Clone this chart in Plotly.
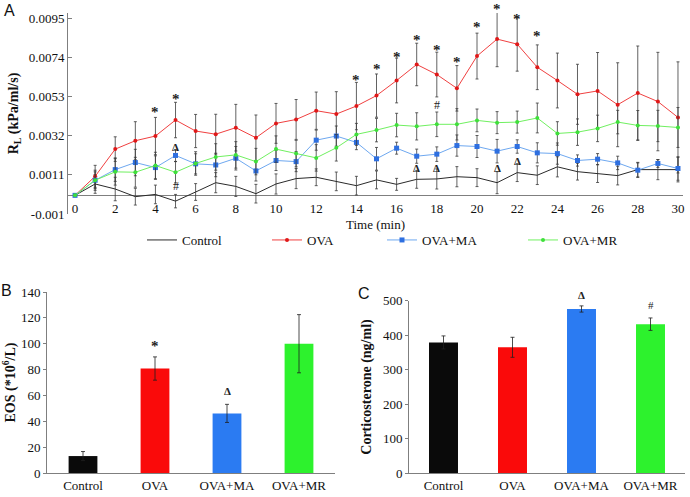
import plotly.graph_objects as go

# ---------------- Panel A data ----------------
time_min = list(range(31))
x_ticks = list(range(0, 31, 2))
y_ticks_a = [-0.001, 0.0011, 0.0032, 0.0053, 0.0074, 0.0095]

control = [0, 0.00061, 0.00034, -0.00007, 0.00005, -0.00031, 0.00018, 0.00068, 0.00048, 0.00009,
           0.00061, 0.0009, 0.00097, 0.00075, 0.00052, 0.00083, 0.00059, 0.00086, 0.00088, 0.001,
           0.00095, 0.00068, 0.00122, 0.00108, 0.00153, 0.00127, 0.00117, 0.00106, 0.00138, 0.00138, 0.00138]
control_err = [0, 0.0005, 0.00063, 0.00045, 0.0005, 0.00036, 0.00045, 0.00054, 0.00054, 0.0005,
               0.00054, 0.00054, 0.00045, 0.0005, 0.0005, 0.00048, 0.00032, 0.00048, 0.00054, 0.00054,
               0.00048, 0.00059, 0.00048, 0.0005, 0.00054, 0.00045, 0.00048, 0.0005, 0.00039, 0.00054, 0.00066]

ova = [0, 0.00102, 0.00248, 0.00293, 0.00318, 0.00404, 0.00345, 0.00328, 0.00363, 0.00309,
       0.00386, 0.00407, 0.00454, 0.00436, 0.00479, 0.00535, 0.00616, 0.00702, 0.00648, 0.00574,
       0.00747, 0.00838, 0.00811, 0.00687, 0.00616, 0.00542, 0.0056, 0.00486, 0.00549, 0.00503, 0.00418]
ova_err = [0, 0.00059, 0.00066, 0.00102, 0.001, 0.00095, 0.00089, 0.00107, 0.00125, 0.00122,
           0.00107, 0.00107, 0.001, 0.0012, 0.00127, 0.00116, 0.0012, 0.00114, 0.0012, 0.00122,
           0.00123, 0.00148, 0.00145, 0.0012, 0.00147, 0.00161, 0.00206, 0.00225, 0.00252, 0.00264, 0.00298]

ova_ma = [0, 0.00081, 0.00138, 0.00176, 0.00149, 0.00214, 0.00169, 0.00163, 0.00199, 0.00131,
          0.00187, 0.00181, 0.00296, 0.00318, 0.00284, 0.00196, 0.00253, 0.0021, 0.00221, 0.00267,
          0.00262, 0.00237, 0.00262, 0.00228, 0.00224, 0.00187, 0.00194, 0.00174, 0.00135, 0.00171, 0.00144]
ova_ma_err = [0, 0.00045, 0.00063, 0.00071, 0.00063, 0.00032, 0.00054, 0.00063, 0.00063, 0.00054,
              0.00054, 0.00054, 0.00054, 0.00054, 0.00039, 0.00061, 0.00032, 0.00038, 0.00039, 0.00057,
              0.00059, 0.00063, 0.00036, 0.00054, 0.00057, 0.0003, 0.0003, 0.00036, 0.00039, 0.00021, 0.00063]

ova_mr = [0, 0.00081, 0.00126, 0.00124, 0.0016, 0.00124, 0.00171, 0.00206, 0.00217, 0.00181,
          0.00248, 0.00224, 0.00201, 0.00255, 0.00327, 0.0035, 0.00377, 0.0037, 0.00381, 0.00381,
          0.00402, 0.0039, 0.00393, 0.00415, 0.00332, 0.00339, 0.00359, 0.00393, 0.00375, 0.00372, 0.00364]
ova_mr_err = [0, 0.00054, 0.00071, 0.0008, 0.00071, 0.00057, 0.00063, 0.00071, 0.00071, 0.00071,
              0.00071, 0.00071, 0.00071, 0.00071, 0.00059, 0.00063, 0.00063, 0.00073, 0.00066, 0.00084,
              0.00061, 0.00059, 0.00059, 0.0008, 0.00063, 0.00071, 0.00071, 0.00063, 0.0008, 0.00084, 0.00107]

star_t = [4, 5, 14, 15, 16, 17, 18, 19, 20, 21, 22, 23]
star_y = [0.00464, 0.00535, 0.00634, 0.00693, 0.0076, 0.00849, 0.00796, 0.00733, 0.00918, 0.01016, 0.00962, 0.00873]
delta_t = [5, 17, 18, 21, 22]
delta_y = [0.00257, 0.00149, 0.00149, 0.00149, 0.00182]
hash_t = [5, 18]
hash_y = [0.00051, 0.00482]

# ---------------- Panels B and C data ----------------
groups = ["Control", "OVA", "OVA+MA", "OVA+MR"]
eos = [13.1, 80.8, 46.1, 100]
eos_err = [3.5, 9, 7, 22.5]
eos_marks = ["", "*", "Δ", ""]
eos_mark_y = [None, 100.5, 63.3, None]

cort = [379, 365, 476, 432]
cort_err = [19, 29, 9, 18]
cort_marks = ["", "", "Δ", "#"]
cort_mark_y = [None, None, 516, 487]

# ---------------- Styling ----------------
W, H = 690, 497
SERIF = "Times New Roman, Liberation Serif, DejaVu Serif, serif"
SANS = "Arial, Liberation Sans, sans-serif"
AXIS_GREY = "#7f7f7f"
ERR_COL = "#3a3a3a"
bar_colors = ["#0a0a0a", "#fa0a0a", "#2b7bf2", "#2df22d"]

A_RANGE = [-0.001, 0.00978]
B_RANGE = [0, 140]
C_RANGE = [0, 500]


def fx(p):
    return p / W


def fy(p):
    return 1 - p / H


def dom(v, rng):
    # position of a data value as a fraction of the axis domain (not clipped when outside range)
    return (v - rng[0]) / (rng[1] - rng[0])


fig = go.Figure()

line_specs = [
    ("Control", control, control_err, dict(color="#2a2a2a", width=1), dict(size=2, color="#2a2a2a"), "legend"),
    ("OVA", ova, ova_err, dict(color="#f04040", width=1), dict(size=4, color="#e01818", symbol="circle"), "legend2"),
    ("OVA+MA", ova_ma, ova_ma_err, dict(color="#6ea8f0", width=1), dict(size=5, color="#2e6fe0", symbol="square"), "legend3"),
    ("OVA+MR", ova_mr, ova_mr_err, dict(color="#70f060", width=1), dict(size=4, color="#3ee03a", symbol="circle"), "legend4"),
]
for name, vals, errs, line, marker, lg in line_specs:
    fig.add_trace(go.Scatter(
        x=time_min, y=vals, name=name, mode="lines+markers" if name != "Control" else "lines",
        line=line, marker=marker, legend=lg,
        error_y=dict(type="data", array=errs, visible=True, color=ERR_COL, thickness=0.8, width=1.5),
        xaxis="x", yaxis="y", cliponaxis=False,
    ))

fig.add_trace(go.Bar(
    x=groups, y=eos, marker=dict(color=bar_colors, line=dict(width=0)), width=0.4, showlegend=False,
    error_y=dict(type="data", array=eos_err, visible=True, color="#202020", thickness=0.8, width=2),
    xaxis="x2", yaxis="y2",
))
fig.add_trace(go.Bar(
    x=groups, y=cort, marker=dict(color=bar_colors, line=dict(width=0)), width=0.42, showlegend=False,
    error_y=dict(type="data", array=cort_err, visible=True, color="#202020", thickness=0.8, width=2),
    xaxis="x3", yaxis="y3",
))

ann = []


def mark(x, y, xref, yref, text, size, yshift=0, bold=True):
    ann.append(dict(x=x, y=y, xref=xref, yref=yref, text=f"<b>{text}</b>" if bold else text,
                    showarrow=False, xanchor="center", yanchor="middle", yshift=yshift,
                    font=dict(family=SERIF, size=size, color="#222")))


for t, y in zip(star_t, star_y):
    mark(t, dom(y, A_RANGE), "x", "y domain", "*", 15, yshift=-3)
for t, y in zip(delta_t, delta_y):
    mark(t, dom(y, A_RANGE), "x", "y domain", "Δ", 11)
for t, y in zip(hash_t, hash_y):
    mark(t, dom(y, A_RANGE), "x", "y domain", "#", 12, bold=False)
for g, m, y in zip(groups, eos_marks, eos_mark_y):
    if m:
        mark(g, dom(y, B_RANGE), "x2", "y2 domain", m, 15 if m == "*" else 11, yshift=-3 if m == "*" else 0)
for g, m, y in zip(groups, cort_marks, cort_mark_y):
    if m:
        mark(g, dom(y, C_RANGE), "x3", "y3 domain", m, 11, bold=(m == "Δ"))
for lab, px, py in [("A", 9, 10), ("B", 7, 290), ("C", 364, 293)]:
    ann.append(dict(x=fx(px), y=fy(py), xref="paper", yref="paper", text=lab, showarrow=False,
                    xanchor="center", yanchor="middle", font=dict(family=SANS, size=16, color="#111")))

tickfont = dict(family=SERIF, size=13, color="#111")
titlefont = dict(family=SERIF, size=14, color="#111")


def legend_at(px_text_start):
    return dict(x=fx(px_text_start - 40), y=fy(240), xanchor="left", yanchor="middle",
                orientation="h", font=dict(family=SERIF, size=13, color="#111"),
                bgcolor="rgba(0,0,0,0)", itemwidth=30, tracegroupgap=0)


fig.update_layout(
    template="none",
    width=W, height=H, margin=dict(l=0, r=0, t=0, b=0, autoexpand=False),
    paper_bgcolor="white", plot_bgcolor="white",
    font=dict(family=SERIF, size=13, color="#111"),
    annotations=ann,
    legend=legend_at(182), legend2=legend_at(307), legend3=legend_at(422), legend4=legend_at(563),
    xaxis=dict(domain=[fx(68), fx(683)], range=[-0.35, 30.25], anchor="free", position=fy(199),
               tickvals=x_ticks, showline=False, showgrid=False, zeroline=False, ticks="", automargin=False,
               tickfont=tickfont, title=dict(text="Time (min)", font=dict(family=SERIF, size=13, color="#111"), standoff=4)),
    yaxis=dict(domain=[fy(214), fy(13)], range=A_RANGE, anchor="x", automargin=False,
               tickvals=y_ticks_a, ticktext=[str(v) for v in y_ticks_a],
               showline=True, linecolor=AXIS_GREY, linewidth=1, ticks="inside", ticklen=4, tickcolor=AXIS_GREY,
               showgrid=False, zeroline=True, zerolinecolor=AXIS_GREY, zerolinewidth=1,
               tickfont=tickfont,
               title=dict(text="<b>R<sub>L</sub> (kPa/ml/s)</b>", font=titlefont, standoff=6)),
    xaxis2=dict(domain=[fx(47), fx(335)], range=[-0.5, 3.5], anchor="y2", showline=True, linecolor=AXIS_GREY,
                ticks="", showgrid=False, zeroline=False, tickfont=tickfont, automargin=False),
    yaxis2=dict(domain=[fy(473), fy(292)], range=B_RANGE, anchor="x2", dtick=20, showline=True,
                linecolor=AXIS_GREY, ticks="outside", ticklen=3, tickcolor=AXIS_GREY, showgrid=False,
                zeroline=False, tickfont=tickfont, automargin=False,
                title=dict(text="<b>EOS (*10<sup>6</sup>/L)</b>", font=titlefont, standoff=8)),
    xaxis3=dict(domain=[fx(409), fx(685)], range=[-0.5, 3.5], anchor="y3", showline=True, linecolor=AXIS_GREY,
                ticks="", showgrid=False, zeroline=False, tickfont=tickfont, automargin=False),
    yaxis3=dict(domain=[fy(473.3), fy(300.7)], range=C_RANGE, anchor="x3", dtick=100, showline=True,
                linecolor=AXIS_GREY, ticks="outside", ticklen=3, tickcolor=AXIS_GREY, showgrid=False,
                zeroline=False, tickfont=tickfont, automargin=False,
                title=dict(text="<b>Corticosterone (ng/ml)</b>", font=titlefont, standoff=8)),
)

fig.write_html(
    "out.html",
    config={"displayModeBar": False},
    post_script="document.body.style.margin='0';document.body.style.padding='0';document.body.style.overflow='hidden';",
)
